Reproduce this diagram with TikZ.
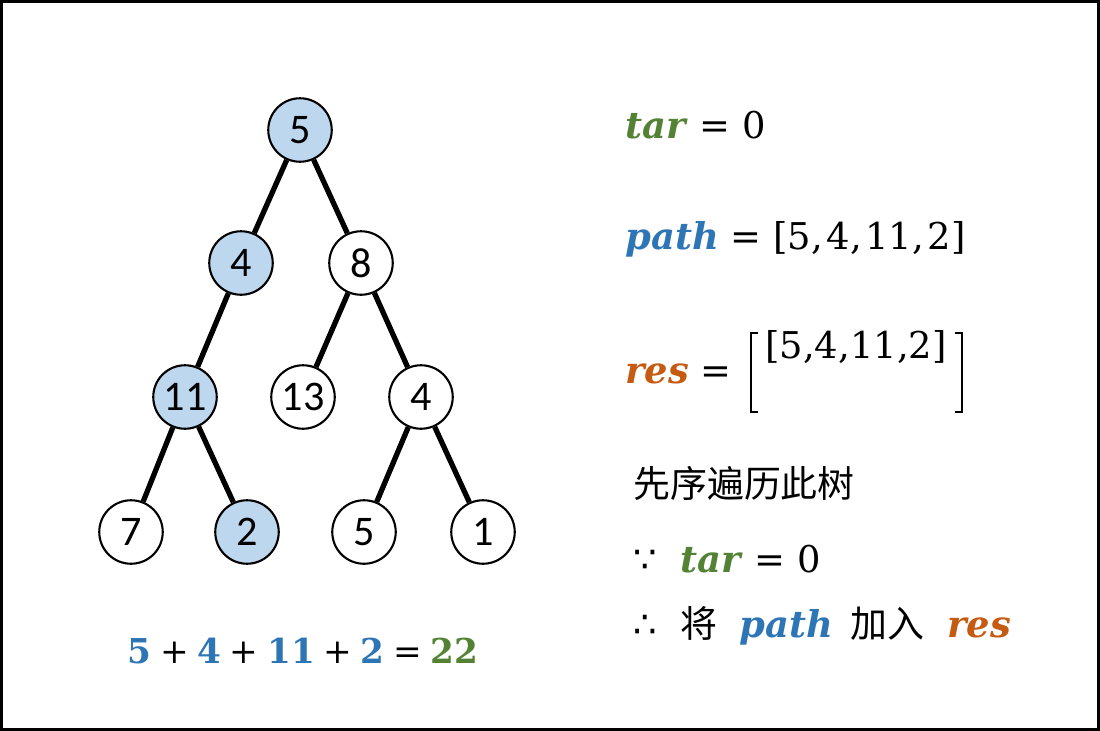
\documentclass[tikz,border=0pt]{standalone}
\usepackage{fontspec}
\setmainfont{DejaVu Serif}
\newfontfamily\nodefont{Carlito}
\newfontfamily\cjk{Noto Sans CJK SC}
\newfontfamily\symfont{DejaVu Sans}
\definecolor{tgreen}{HTML}{548235}
\definecolor{tblue}{HTML}{2E75B6}
\definecolor{torange}{HTML}{C55A11}
\definecolor{nodefill}{HTML}{BDD7EE}
\newcommand{\bi}[2]{\textcolor{#1}{\textbf{\textit{#2}}}}
\tikzset{
  tnode/.style={circle, draw=black, line width=1.2pt, minimum size=1.27cm, inner sep=0pt, fill=white, font=\nodefont\fontsize{24}{26}\selectfont},
  onpath/.style={tnode, fill=nodefill},
  edge/.style={line width=3pt, black},
  txt/.style={anchor=base west, inner sep=0pt, font=\fontsize{21}{25}\selectfont},
  cjktxt/.style={anchor=base west, inner sep=0pt, font=\cjk\fontsize{21}{25}\selectfont},
}
\begin{document}
\begin{tikzpicture}[x=0.02cm,y=-0.02cm]
\useasboundingbox (0,0) rectangle (1100,731);
\draw[line width=1.7pt] (1.5,1.5) rectangle (1098.5,729.5);

\node[onpath] (n5) at (300,130) {5};
\node[onpath] (n4) at (241,263) {4};
\node[tnode] (n8) at (361,263) {8};
\node[onpath] (n11) at (185,397) {11};
\node[tnode] (n13) at (303,397) {13};
\node[tnode] (n4b) at (421,397) {4};
\node[tnode] (n7) at (131,532) {7};
\node[onpath] (n2) at (247,532) {2};
\node[tnode] (n5b) at (364,532) {5};
\node[tnode] (n1) at (483,532) {1};

\draw[edge] (n5) -- (n4);
\draw[edge] (n5) -- (n8);
\draw[edge] (n4) -- (n11);
\draw[edge] (n8) -- (n13);
\draw[edge] (n8) -- (n4b);
\draw[edge] (n11) -- (n7);
\draw[edge] (n11) -- (n2);
\draw[edge] (n4b) -- (n5b);
\draw[edge] (n4b) -- (n1);

\node[anchor=base, inner sep=0pt, font=\fontsize{19.5}{23}\selectfont] (sum) at (303,663)
  {\textcolor{tblue}{\textbf{5}}\hspace{0.25em}+\hspace{0.25em}\textcolor{tblue}{\textbf{4}}\hspace{0.25em}+\hspace{0.25em}\textcolor{tblue}{\textbf{11}}\hspace{0.25em}+\hspace{0.25em}\textcolor{tblue}{\textbf{2}}\hspace{0.25em}=\hspace{0.25em}\textcolor{tgreen}{\textbf{22}}};

\node[txt] (tar) at (625,138) {\bi{tgreen}{tar} = 0};
\node[txt] (path) at (625,249) {\bi{tblue}{path} = [5,\hspace{0.1em}4,\hspace{0.1em}11,\hspace{0.1em}2]};
\node[txt] (res) at (625,383) {\bi{torange}{res} =};
\node[txt] (inner) at (765,358) {[5,4,11,2]};
\draw[line width=1.5pt] (758,333) -- (751,333) -- (751,412) -- (758,412);
\draw[line width=1.5pt] (955,333) -- (962,333) -- (962,412) -- (955,412);

\node[cjktxt] (pre) at (633,497) {先序遍历此树};
\node[txt, font=\symfont\fontsize{21}{25}\selectfont] (because) at (633,572) {∵};
\node[txt] (tar2) at (680,572) {\bi{tgreen}{tar} = 0};
\node[txt, font=\symfont\fontsize{21}{25}\selectfont] (therefore) at (633,637) {∴};
\node[cjktxt] (jiang) at (680,637) {将};
\node[txt] (path2) at (739,637) {\bi{tblue}{path}};
\node[cjktxt] (jiaru) at (850,637) {加入};
\node[txt] (res2) at (947,637) {\bi{torange}{res}};
\end{tikzpicture}
\end{document}
